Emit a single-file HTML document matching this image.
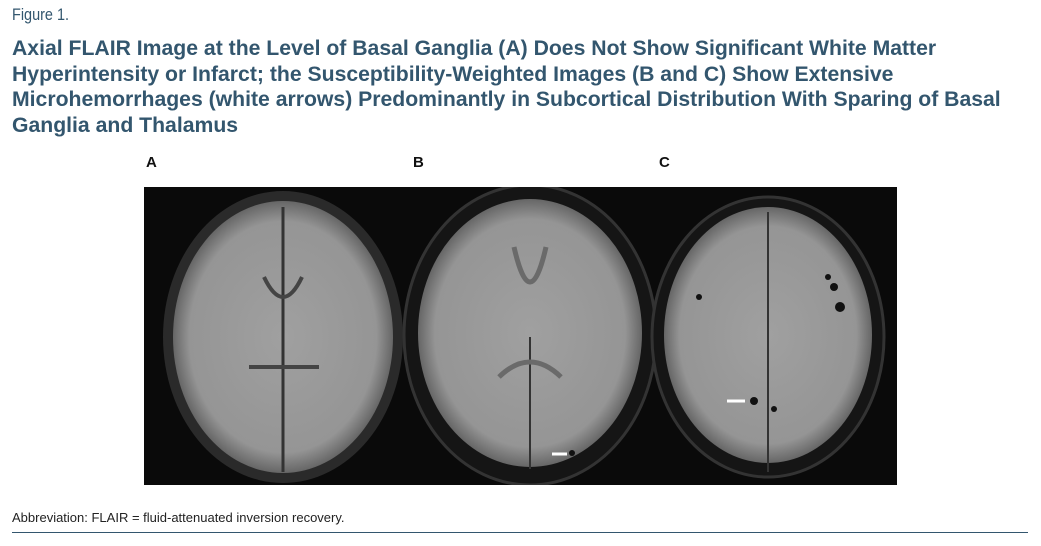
<!DOCTYPE html>
<html><head><meta charset="utf-8"><style>
body{margin:0;width:1041px;height:546px;background:#fff;font-family:"Liberation Sans",sans-serif;position:relative;overflow:hidden}
.fig{position:absolute;left:12px;top:5px;font-size:17px;color:#33566e;transform:scaleX(.85);transform-origin:left}
.h{position:absolute;left:12px;top:36px;font-size:21.2px;font-weight:bold;color:#33566e;line-height:25.5px;white-space:nowrap}
.l{position:absolute;top:154px;font-size:15px;font-weight:bold;color:#111}
.ab{position:absolute;left:12px;top:510px;font-size:13px;color:#222}
.rule{position:absolute;left:12px;top:532px;width:1016px;height:1px;background:#33566e}
svg{position:absolute;left:144px;top:187px}
</style></head><body>
<div class="fig">Figure 1.</div>
<div class="h">Axial FLAIR Image at the Level of Basal Ganglia (A) Does Not Show Significant White Matter<br>Hyperintensity or Infarct; the Susceptibility-Weighted Images (B and C) Show Extensive<br>Microhemorrhages (white arrows) Predominantly in Subcortical Distribution With Sparing of Basal<br>Ganglia and Thalamus</div>
<div class="l" style="left:146px">A</div>
<div class="l" style="left:413px">B</div>
<div class="l" style="left:659px">C</div>
<svg width="753" height="298" viewBox="0 0 753 298">
<defs><radialGradient id="g" cx="50%" cy="50%" r="50%"><stop offset="0" stop-color="#a0a0a0"/><stop offset=".85" stop-color="#959595"/><stop offset="1" stop-color="#666"/></radialGradient></defs>
<rect width="753" height="298" fill="#0a0a0a"/>
<ellipse cx="139" cy="150" rx="120" ry="146" fill="#2a2a2a"/>
<ellipse cx="139" cy="150" rx="110" ry="136" fill="url(#g)"/>
<path d="M139 20 V285" stroke="#333" stroke-width="3"/>
<path d="M120 90 Q139 130 158 90 M105 180 L175 180" stroke="#444" stroke-width="4" fill="none"/>
<ellipse cx="386" cy="148" rx="126" ry="150" fill="#151515" stroke="#333" stroke-width="3"/>
<ellipse cx="386" cy="146" rx="112" ry="134" fill="url(#g)"/>
<path d="M386 150 V282" stroke="#333" stroke-width="2"/>
<path d="M370 60 Q386 130 402 60 M355 190 Q386 160 417 190" stroke="#6a6a6a" stroke-width="5" fill="none"/>
<path d="M408 267 H423" stroke="#fff" stroke-width="3"/><circle cx="428" cy="266" r="3" fill="#111"/>
<ellipse cx="624" cy="150" rx="116" ry="140" fill="#151515" stroke="#333" stroke-width="3"/>
<ellipse cx="624" cy="148" rx="104" ry="128" fill="url(#g)"/>
<path d="M624 25 V285" stroke="#333" stroke-width="2"/>
<path d="M583 214 H601" stroke="#fff" stroke-width="3"/><circle cx="610" cy="214" r="4" fill="#111"/>
<circle cx="690" cy="100" r="4" fill="#111"/><circle cx="696" cy="120" r="5" fill="#111"/><circle cx="684" cy="90" r="3" fill="#111"/><circle cx="555" cy="110" r="3" fill="#111"/><circle cx="630" cy="222" r="3" fill="#111"/>
</svg>
<div class="ab">Abbreviation: FLAIR = fluid-attenuated inversion recovery.</div>
<div class="rule"></div>
</body></html>
